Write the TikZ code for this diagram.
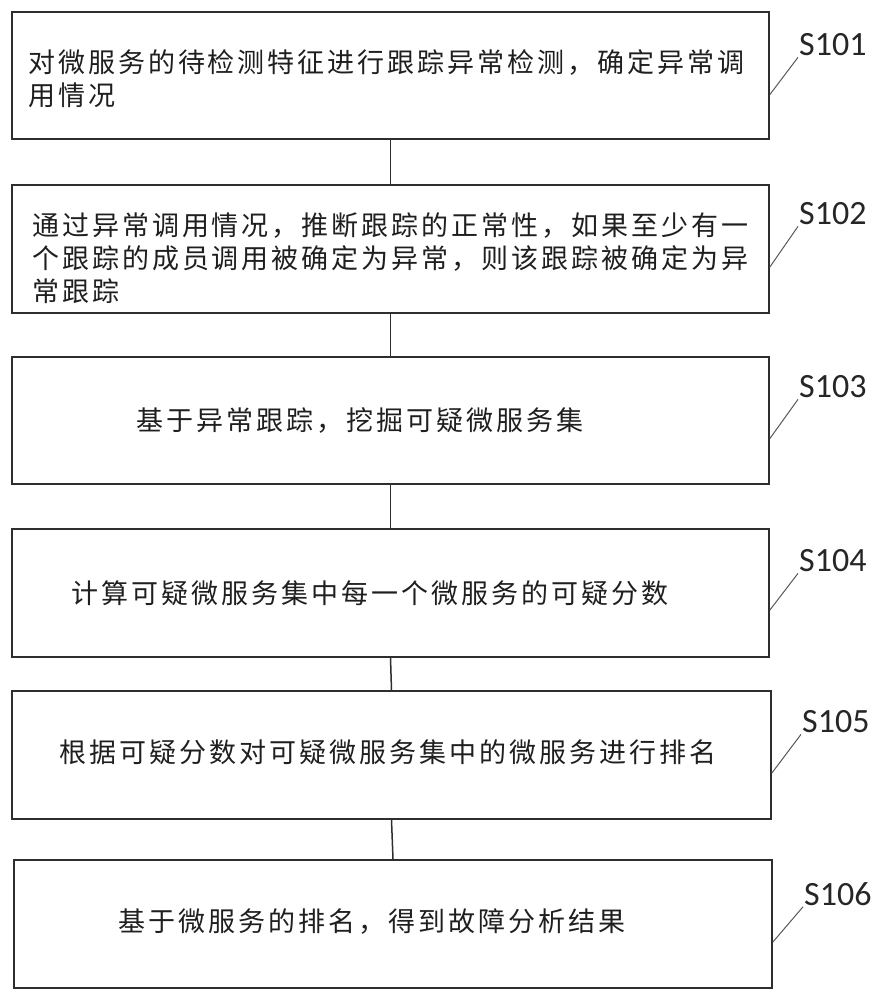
\documentclass[tikz,border=0pt]{standalone}
\usepackage{fontspec}
\setmainfont{Carlito}
\newfontfamily\cjk[LetterSpace=11]{Noto Sans CJK SC}
\newfontfamily\lab{Carlito}
\begin{document}
\begin{tikzpicture}[x=1pt,y=-1pt,
  stepbox/.style={draw=black!82,line width=1.8pt,minimum width=757pt,minimum height=127pt,inner sep=0pt},
  steptext/.style={inner sep=0pt,align=left,font=\cjk\fontsize{27}{33}\selectfont,text=black!88},
  steplabel/.style={inner sep=1pt,anchor=west,font=\lab\fontsize{34}{36}\selectfont,text=black!85},
  conn/.style={draw=black!82,line width=1.5pt},
  leader/.style={draw=black!65,line width=1pt}]
\useasboundingbox (0,0) rectangle (884,1000);
\fill[white] (0,0) rectangle (884,1000);
% boxes
\node[stepbox] (b1) at (390.5,75.5) {};
\node[stepbox,minimum height=128pt] (b2) at (390.5,249) {};
\node[stepbox] (b3) at (390.5,420.5) {};
\node[stepbox,minimum height=128pt] (b4) at (390.5,593) {};
\node[stepbox,minimum width=759pt,minimum height=128pt] (b5) at (391.5,755) {};
\node[stepbox,minimum width=758pt,minimum height=128pt] (b6) at (393,924) {};
% texts
\node[steptext,anchor=west] (t1) at (28,78.5) {对微服务的待检测特征进行跟踪异常检测，确定异常调\\用情况};
\node[steptext,anchor=west] (t2) at (32,258) {通过异常调用情况，推断跟踪的正常性，如果至少有一\\个跟踪的成员调用被确定为异常，则该跟踪被确定为异\\常跟踪};
\node[steptext] (t3) at (360,420) {基于异常跟踪，挖掘可疑微服务集};
\node[steptext] (t4) at (370,593) {计算可疑微服务集中每一个微服务的可疑分数};
\node[steptext] (t5) at (388,752) {根据可疑分数对可疑微服务集中的微服务进行排名};
\node[steptext] (t6) at (372,922) {基于微服务的排名，得到故障分析结果};
% connectors
\draw[conn] (b1.south) -- (b2.north);
\draw[conn] (b2.south) -- (b3.north);
\draw[conn] (b3.south) -- (b4.north);
\draw[conn] (b4.south) -- (b5.north);
\draw[conn] (b5.south) -- (b6.north);
% labels
\node[steplabel] (l1) at (798,45) {S101};
\node[steplabel] (l2) at (798,214) {S102};
\node[steplabel] (l3) at (798,387) {S103};
\node[steplabel] (l4) at (798,561) {S104};
\node[steplabel] (l5) at (801,722) {S105};
\node[steplabel] (l6) at (803,894) {S106};
\draw[leader] ([yshift=-19pt]b1.east) -- (l1.south west);
\draw[leader] ([yshift=-18pt]b2.east) -- (l2.south west);
\draw[leader] ([yshift=-18pt]b3.east) -- (l3.south west);
\draw[leader] ([yshift=-17pt]b4.east) -- (l4.south west);
\draw[leader] ([yshift=-18pt]b5.east) -- (l5.south west);
\draw[leader] ([yshift=-18pt]b6.east) -- (l6.south west);
\end{tikzpicture}
\end{document}
